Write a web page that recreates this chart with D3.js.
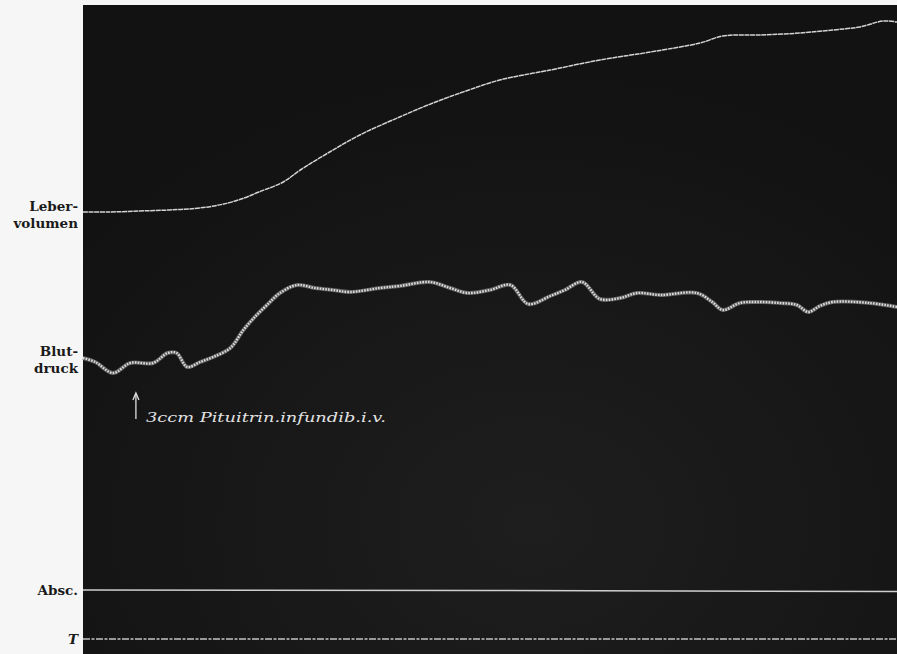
<!DOCTYPE html>
<html>
<head>
<meta charset="utf-8">
<script src="https://cdn.jsdelivr.net/npm/d3@7"></script>
<style>
  body { margin: 0; background: #f6f6f6; }
</style>
</head>
<body>
<div id="here"></div>
<script>
   var w = 897, h = 654;

   // time in arbitrary units (0..100), heights in mm above the bottom of the drum
   var leberT = [0, 3.3, 7, 10.6, 14.3, 17.3, 19.8, 21.6, 24.6, 26.7, 30.3, 34, 38.9, 43, 47.4, 51.2, 57.4, 63.5, 69.7, 75.8, 78.6, 83.2, 88.1, 92.1, 95.4, 98.3, 100];
   var leberV = [438, 438, 439, 440, 442, 446, 452, 458, 468, 480, 498, 515, 533, 547, 560, 570, 580, 590, 598, 607, 614, 615, 617, 620, 623, 629, 628];

   var blutT = [0, 1.5, 3.7, 5.8, 8.6, 10.4, 11.5, 12.8, 14.4, 16, 18.1, 19.7, 21.1, 22.6, 24.2, 26.3, 28.5, 30.7, 32.8, 36.5, 38.9, 42.6, 45.1, 47.2, 50, 52.5, 54.7, 57.4, 59.2, 61.3, 63.5, 66, 68.1, 70.9, 75.4, 77.3, 78.6, 80.7, 82.8, 85.6, 87.7, 89.1, 90.5, 92.1, 96.6, 100];
   var blutV = [292, 288, 277, 287, 287, 297, 297, 283, 288, 293, 302, 320, 333, 345, 357, 365, 362, 360, 358, 362, 364, 368, 362, 357, 360, 365, 346, 354, 360, 368, 351, 352, 357, 355, 357, 348, 340, 347, 348, 347, 345, 338, 344, 348, 347, 343];

   var abscT = [0, 50, 100];
   var abscV = [60, 59.5, 58.5];
   var zeitT = [0, 50, 100];
   var zeitV = [11, 11, 11];

   var x0 = 83, y0 = 5;

   var x = d3.scaleLinear().domain([0, 100]).range([x0, w]);
   var y = d3.scaleLinear().domain([0, 650]).range([650, 0]);

   var svg = d3.select('#here').append("svg")
      .attr("width", w)
      .attr("height", h)
      .style("display", "block")
      .style("background", "#f6f6f6");

   var defs = svg.append("defs");
   var grad = defs.append("radialGradient").attr("id", "paper")
      .attr("cx", "0.55").attr("cy", "0.8").attr("r", "0.7");
   grad.append("stop").attr("offset", "0%").attr("stop-color", "#1e1e1e");
   grad.append("stop").attr("offset", "100%").attr("stop-color", "#121212");

   svg.append("rect")
      .attr("x", x0).attr("y", y0)
      .attr("width", w - x0).attr("height", h - y0)
      .attr("fill", "url(#paper)");

   function series(t, v) {
      return t.map(function(d, i) { return [d, v[i]]; });
   }

   var line = d3.line()
      .x(function(d) { return x(d[0]); })
      .y(function(d) { return y(d[1]); })
      .curve(d3.curveCatmullRom.alpha(0.5));

   var straight = d3.line()
      .x(function(d) { return x(d[0]); })
      .y(function(d) { return y(d[1]); });

   // Lebervolumen
   svg.append("path")
      .attr("d", line(series(leberT, leberV)))
      .attr("fill", "none")
      .attr("stroke", "#d4d4d4")
      .attr("stroke-width", 1.5)
      .attr("stroke-dasharray", "5,0.6");

   // Blutdruck
   svg.append("path")
      .attr("d", line(series(blutT, blutV)))
      .attr("fill", "none")
      .attr("stroke", "#5e5e5e")
      .attr("stroke-width", 4);
   svg.append("path")
      .attr("d", line(series(blutT, blutV)))
      .attr("fill", "none")
      .attr("stroke", "#dcdcdc")
      .attr("stroke-width", 2.4)
      .attr("stroke-dasharray", "1.6,1.2");

   // Abscisse
   svg.append("path")
      .attr("d", straight(series(abscT, abscV)))
      .attr("fill", "none")
      .attr("stroke", "#cfcfcf")
      .attr("stroke-width", 1.5);

   // Zeit
   svg.append("path")
      .attr("d", straight(series(zeitT, zeitV)))
      .attr("fill", "none")
      .attr("stroke", "#c4c4c4")
      .attr("stroke-width", 1.6)
      .attr("stroke-dasharray", "7,1.5,3,1.5");

   // labels
   var labels = [
      {lines: ["Leber-", "volumen"], y: 211, italic: false},
      {lines: ["Blut-", "druck"], y: 356, italic: false},
      {lines: ["Absc."], y: 595, italic: false},
      {lines: ["T"], y: 644, italic: true}
   ];
   labels.forEach(function(l) {
      var t = svg.append("text")
         .attr("x", 78).attr("y", l.y)
         .attr("text-anchor", "end")
         .style("font-family", "DejaVu Serif")
         .style("font-weight", "bold")
         .style("font-style", l.italic ? "italic" : "normal")
         .style("font-size", "13.5px")
         .attr("fill", "#1a1a1a");
      l.lines.forEach(function(s, i) {
         t.append("tspan").attr("x", 78).attr("dy", i ? 17 : 0).text(s);
      });
   });

   // injection mark
   var tInj = 6.5;
   svg.append("line")
      .attr("x1", x(tInj)).attr("x2", x(tInj))
      .attr("y1", 419).attr("y2", 394)
      .attr("stroke", "#e0e0e0").attr("stroke-width", 1.3);
   svg.append("path")
      .attr("d", "M" + (x(tInj) - 3) + ",400 L" + x(tInj) + ",393 L" + (x(tInj) + 3) + ",400")
      .attr("fill", "none").attr("stroke", "#e0e0e0").attr("stroke-width", 1.3);
   svg.append("text")
      .attr("x", x(tInj) + 10).attr("y", 422)
      .attr("textLength", 240)
      .attr("lengthAdjust", "spacingAndGlyphs")
      .style("font-family", "DejaVu Serif")
      .style("font-style", "italic")
      .style("font-size", "13px")
      .attr("fill", "#e2e2e2")
      .text("3ccm Pituitrin.infundib.i.v.");
</script>
</body>
</html>
